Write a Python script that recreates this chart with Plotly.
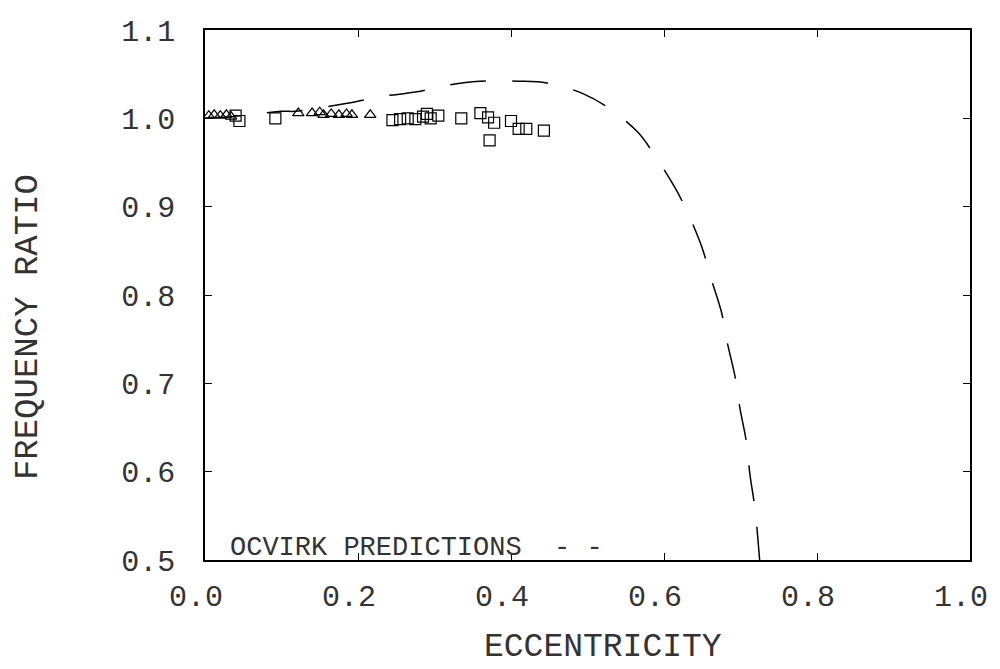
import plotly.graph_objects as go

# Ocvirk short-bearing prediction
ocvirk_ecc = [0.0, 0.05, 0.10, 0.118, 0.186, 0.233, 0.277, 0.320, 0.359, 0.408, 0.447,
              0.494, 0.527, 0.565, 0.588, 0.614, 0.631, 0.650, 0.661, 0.675, 0.682,
              0.693, 0.699, 0.708, 0.712, 0.719, 0.725]
ocvirk_ratio = [1.000, 1.003, 1.008, 1.008, 1.017, 1.025, 1.030, 1.038, 1.042, 1.042, 1.040,
                1.028, 1.012, 0.985, 0.958, 0.922, 0.893, 0.853, 0.820, 0.781, 0.749,
                0.707, 0.673, 0.632, 0.599, 0.557, 0.500]

# measured points, triangles
tri_ecc = [0.005, 0.012, 0.020, 0.028, 0.034, 0.122, 0.140, 0.150, 0.155, 0.165,
           0.175, 0.185, 0.192, 0.216]
tri_ratio = [1.003, 1.004, 1.003, 1.004, 1.002, 1.006, 1.006, 1.007, 1.004, 1.005,
             1.004, 1.005, 1.004, 1.004]

# measured points, squares
sq_ecc = [0.040, 0.045, 0.092, 0.245, 0.255, 0.265, 0.275, 0.285, 0.290, 0.295,
          0.305, 0.335, 0.360, 0.370, 0.378, 0.372, 0.400, 0.410, 0.420, 0.443]
sq_ratio = [1.003, 0.997, 1.000, 0.998, 0.999, 1.000, 0.999, 1.002, 1.005, 1.000,
            1.003, 1.000, 1.006, 1.001, 0.995, 0.975, 0.997, 0.988, 0.988, 0.986]

x_ticks = [0.0, 0.2, 0.4, 0.6, 0.8, 1.0]
y_ticks = [0.5, 0.6, 0.7, 0.8, 0.9, 1.0, 1.1]

FONT = "Liberation Mono"
INK = "#333"

fig = go.Figure()
fig.add_trace(go.Scatter(x=ocvirk_ecc, y=ocvirk_ratio, mode="lines",
                         line=dict(color="black", width=1.5, dash="36px,26px", shape="spline")))
fig.add_trace(go.Scatter(x=tri_ecc, y=tri_ratio, mode="markers",
                         marker=dict(symbol="triangle-up-open", size=10, color="black",
                                     line=dict(width=1.2))))
fig.add_trace(go.Scatter(x=sq_ecc, y=sq_ratio, mode="markers",
                         marker=dict(symbol="square-open", size=11, color="black",
                                     line=dict(width=1.2))))

axis_common = dict(showline=True, linecolor="black", linewidth=1.5, mirror="ticks",
                   ticks="inside", ticklen=7, tickcolor="black", showgrid=False,
                   zeroline=False, automargin=False,
                   tickfont=dict(family=FONT, size=30, color=INK))
# trailing nbsp nudges the x labels a little left of their ticks, like the original
fig.update_xaxes(range=[0, 1.0], tickvals=x_ticks,
                 ticktext=[f"{v:.1f}\u00a0" for v in x_ticks],
                 ticklabelstandoff=8, **axis_common)
fig.update_yaxes(range=[0.5, 1.1], tickvals=y_ticks, ticktext=[f"{v:.1f}" for v in y_ticks],
                 ticklabelstandoff=22, **axis_common)

# page body adds an 8px offset, margins compensate for it
fig.update_layout(
    width=1000, height=669, showlegend=False,
    plot_bgcolor="white", paper_bgcolor="white",
    margin=dict(l=197, r=38, t=22, b=117),
    annotations=[
        dict(text="ECCENTRICITY", xref="paper", yref="paper", x=0.52, y=-0.166,
             xanchor="center", yanchor="middle", showarrow=False,
             font=dict(family=FONT, size=33, color=INK)),
        dict(text="FREQUENCY RATIO", xref="paper", yref="paper", x=-0.231, y=0.44,
             xanchor="center", yanchor="middle", textangle=-90, showarrow=False,
             font=dict(family=FONT, size=34, color=INK)),
        dict(text="OCVIRK PREDICTIONS  - -", xref="paper", yref="paper", x=0.03, y=0.023,
             xanchor="left", yanchor="middle", showarrow=False,
             font=dict(family=FONT, size=27, color=INK)),
    ],
)

fig.write_html("out.html")
